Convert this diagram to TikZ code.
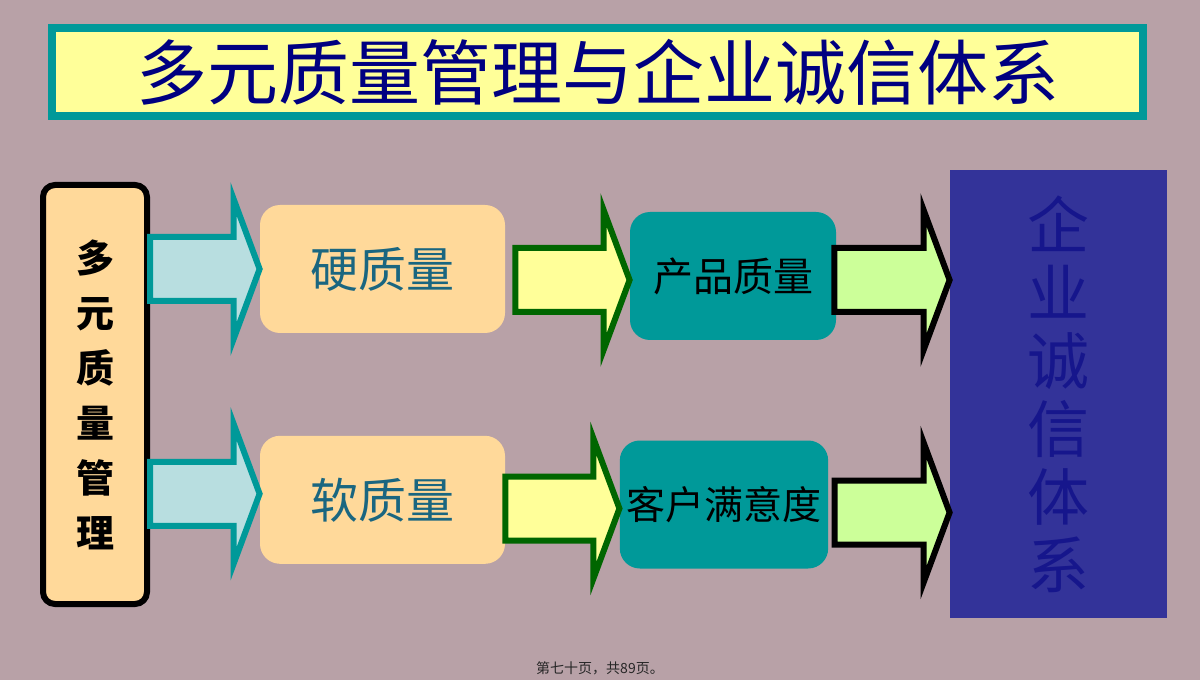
\documentclass[tikz,border=0pt]{standalone}
\usepackage{fontspec}
\usepackage{tikz}
\usetikzlibrary{positioning,calc}
\newfontfamily\cjk{Noto Sans CJK SC}

\definecolor{bgpink}{HTML}{B8A1A7}
\definecolor{tealline}{HTML}{009999}
\definecolor{titleyellow}{HTML}{FFFF99}
\definecolor{titlenavy}{HTML}{000080}
\definecolor{peach}{HTML}{FFD99A}
\definecolor{hardtext}{HTML}{1A6680}
\definecolor{paleteal}{HTML}{B8DEE0}
\definecolor{darkgreen}{HTML}{006600}
\definecolor{palelime}{HTML}{CCFF99}
\definecolor{creditblue}{HTML}{333399}
\definecolor{credittext}{HTML}{16168C}

% block arrow from the x of #2 to the tip #3
\newcommand{\blockarrow}[3]{%
  \draw[#1] let \p1=#2, \p2=#3 in
    (\x1,\y2+16pt) -- (\x2-13pt,\y2+16pt) -- (\x2-13pt,\y2+35pt) -- (\x2,\y2)
    -- (\x2-13pt,\y2-35pt) -- (\x2-13pt,\y2-16pt) -- (\x1,\y2-16pt) -- cycle;}

\begin{document}
\begin{tikzpicture}[x=0.5pt,y=-0.5pt]
		\tikzstyle{titlebox}=[rectangle, draw=tealline, line width=4pt, fill=titleyellow, minimum width=545.5pt, minimum height=44pt, text=titlenavy, font=\cjk\fontsize{35.5pt}{40pt}\selectfont]
		\tikzstyle{peachbox}=[rectangle, rounded corners=10pt, fill=peach, minimum width=122.5pt, minimum height=64pt, text=hardtext, font=\cjk\fontsize{24pt}{28pt}\selectfont]
		\tikzstyle{tealbox}=[rectangle, rounded corners=10pt, fill=tealline, minimum height=64pt, text=black, font=\cjk\fontsize{20pt}{24pt}\selectfont]
		\tikzstyle{tealarrow}=[draw=tealline, fill=paleteal, line width=3pt, line join=miter]
		\tikzstyle{greenarrow}=[draw=darkgreen, fill=titleyellow, line width=3pt, line join=miter]
		\tikzstyle{blackarrow}=[draw=black, fill=palelime, line width=3pt, line join=miter]
		\fill[bgpink] (0,0) rectangle (1200,680);
		\node[titlebox] (title) at (597.5,72) {\raisebox{-1.5pt}{多元质量管理与企业诚信体系}};
		\node[rectangle, rounded corners=6pt, draw=black, line width=3pt, fill=peach, minimum width=52pt, minimum height=209.5pt, align=center, font=\cjk\bfseries\fontsize{19pt}{27.5pt}\selectfont] (multi) at (95,394.5) {多\\元\\质\\量\\管\\理};
		\node[peachbox] (hard) at (382.5,269) {硬质量};
		\node[peachbox] (soft) [below=51pt of hard] {软质量};
		\node[tealbox, minimum width=103pt] (product) at (733,276) {产品质量};
		\node[tealbox, minimum width=104pt, font=\cjk\fontsize{19.5pt}{24pt}\selectfont] (satisf) at (724,504.5) {客户满意度};
		\node[rectangle, fill=creditblue, minimum width=108.5pt, minimum height=224pt, align=center, text=credittext, font=\cjk\fontsize{31pt}{34pt}\selectfont] (credit) at (1058.5,394) {企\\业\\诚\\信\\体\\系};
		\node[text=black!85, font=\cjk\fontsize{7pt}{8pt}\selectfont] (footer) at (600,668) {第七十页，共89页。};
		\blockarrow{tealarrow}{(multi.east)}{(hard.west)}
		\blockarrow{tealarrow}{(multi.east)}{([yshift=3pt]soft.west)}
		\blockarrow{greenarrow}{([xshift=5pt]hard.east)}{([yshift=-2pt]product.west)}
		\blockarrow{greenarrow}{(soft.east)}{([yshift=-2pt]satisf.west)}
		\blockarrow{blackarrow}{([xshift=-1pt]product.east)}{([yshift=-2pt]product -| credit.west)}
		\blockarrow{blackarrow}{([xshift=3pt]satisf.east)}{([yshift=-4pt]satisf -| credit.west)}
\end{tikzpicture}
\end{document}
